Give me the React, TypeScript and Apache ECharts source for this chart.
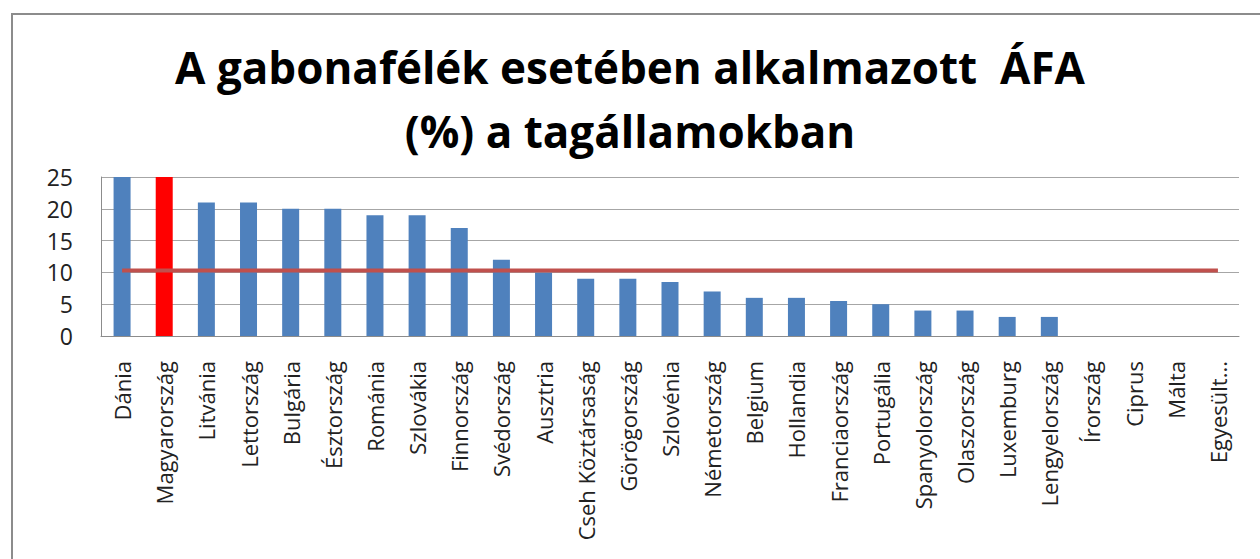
import React, { useEffect, useRef } from "react";
import * as echarts from "echarts";

const categories = [
  "Dánia", "Magyarország", "Litvánia", "Lettország", "Bulgária", "Észtország",
  "Románia", "Szlovákia", "Finnország", "Svédország", "Ausztria", "Cseh Köztársaság",
  "Görögország", "Szlovénia", "Németország", "Belgium", "Hollandia", "Franciaország",
  "Portugália", "Spanyolország", "Olaszország", "Luxemburg", "Lengyelország",
  "Írország", "Ciprus", "Málta", "Egyesült...",
];
const vatValues = [25, 25, 21, 21, 20, 20, 19, 19, 17, 12, 10, 9, 9, 8.5, 7, 6, 6, 5.5, 5, 4, 4, 3, 3, 0, 0, 0, 0];
const averageValue = 10.3;
const highlighted = "Magyarország";
const yTicks = { min: 0, max: 25, interval: 5 };
const titleText = "A gabonafélék esetében alkalmazott  ÁFA\n(%) a tagállamokban";

export default function App() {
  const ref = useRef<HTMLDivElement>(null);
  useEffect(() => {
    if (!ref.current) return;
    const chart = echarts.init(ref.current, null, { renderer: "svg" });
    const font = "'Open Sans', 'Liberation Sans', sans-serif";
    chart.setOption({
      animation: false,
      backgroundColor: "#ffffff",
      title: {
        text: titleText,
        left: "center",
        top: 30,
        textStyle: {
          fontFamily: font,
          fontWeight: "bold",
          fontSize: 44,
          lineHeight: 64,
          color: "#000000",
        },
      },
      graphic: [
        {
          type: "rect",
          shape: { x: 12, y: 14, width: 1300, height: 600 },
          style: { fill: "none", stroke: "#8c8c8c", lineWidth: 2 },
          silent: true,
        },
      ],
      grid: { left: 101, right: 21, top: 177, bottom: 223, containLabel: false },
      xAxis: {
        type: "category",
        data: categories,
        axisLine: { show: true, lineStyle: { color: "#8c8c8c", width: 1 } },
        axisTick: { show: false },
        axisLabel: {
          interval: 0,
          rotate: 90,
          margin: 25,
          fontFamily: font,
          fontSize: 22,
          color: "#222222",
        },
      },
      yAxis: {
        type: "value",
        min: yTicks.min,
        max: yTicks.max,
        interval: yTicks.interval,
        axisLine: { show: true, lineStyle: { color: "#8c8c8c", width: 1 } },
        axisTick: { show: false },
        splitLine: { show: true, lineStyle: { color: "#a6a6a6", width: 1 } },
        axisLabel: {
          margin: 28,
          fontFamily: font,
          fontSize: 23,
          color: "#222222",
        },
      },
      series: [
        {
          type: "bar",
          data: vatValues.map((v, i) => ({
            value: v,
            itemStyle: { color: categories[i] === highlighted ? "#ff0000" : "#4f81bd" },
          })),
          barWidth: 17,
        },
        {
          type: "line",
          data: categories.map(() => averageValue),
          symbol: "none",
          lineStyle: { color: "#c0504d", width: 4 },
          z: 5,
        },
      ],
    });
    return () => chart.dispose();
  }, []);
  return (
    <div
      ref={ref}
      style={{ position: "fixed", left: 0, top: 0, width: 1260, height: 559 }}
    />
  );
}
